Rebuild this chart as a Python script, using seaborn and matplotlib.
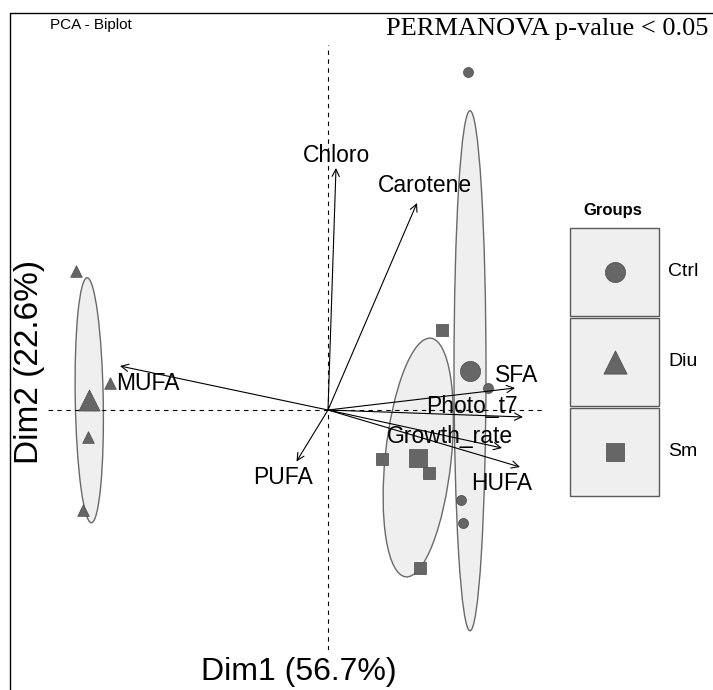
import numpy as np
import pandas as pd
import matplotlib
matplotlib.use("Agg")
import matplotlib.pyplot as plt
from matplotlib.patches import Ellipse, Rectangle
from matplotlib.lines import Line2D
import seaborn as sns

# individuals (PCA scores)
groups = ["Ctrl", "Ctrl", "Ctrl", "Ctrl",
          "Diu", "Diu", "Diu", "Diu",
          "Sm", "Sm", "Sm", "Sm"]
dim1 = [2.80, 3.20, 2.66, 2.70,
        -5.04, -4.36, -4.80, -4.90,
        2.28, 1.08, 2.02, 1.84]
dim2 = [6.76, 0.44, -1.80, -2.26,
        2.78, 0.54, -0.54, -2.00,
        1.60, -0.98, -1.26, -3.16]

group_names = ["Ctrl", "Diu", "Sm"]
group_markers = ["o", "^", "s"]
# concentration ellipses (full width / height in Dim units, angle in degrees)
ell_width = [0.64, 0.56, 1.32]
ell_height = [10.4, 4.9, 4.8]
ell_angle = [0, 1, -6]

# variables (loadings)
var_names = ["Chloro", "Carotene", "MUFA", "PUFA", "SFA", "Photo_t7", "Growth_rate", "HUFA"]
load_x = [0.16, 1.78, -4.16, -0.63, 3.74, 3.90, 3.48, 3.84]
load_y = [4.84, 4.14, 0.88, -1.03, 0.44, -0.14, -0.76, -1.14]
lab_x = [0.18, 1.94, -3.60, -0.90, 3.78, 2.88, 2.44, 3.48]
lab_y = [5.10, 4.48, 0.52, -1.34, 0.70, 0.08, -0.54, -1.46]

df = pd.DataFrame({"group": groups, "Dim1": dim1, "Dim2": dim2})
means = df.groupby("group")[["Dim1", "Dim2"]].mean()

sns.set_style("white")
plt.rcParams["font.family"] = ["Liberation Sans", "DejaVu Sans"]
plt.rcParams["text.color"] = "black"

W, H = 713, 690
fig = plt.figure(figsize=(W / 100, H / 100), dpi=100)
ax = fig.add_axes([48 / W, (H - 650) / H, 497 / W, 605 / H])
ax.set_xlim(-5.6, 4.34)
ax.set_ylim(-4.8, 7.3)
ax.axis("off")

pt_color = "#666666"
edge_color = "#4a4a4a"
small_s = {"o": 52, "^": 70, "s": 63}
big_s = {"o": 210, "^": 230, "s": 175}

for g, m, w, h, a in zip(group_names, group_markers, ell_width, ell_height, ell_angle):
    cx, cy = means.loc[g, "Dim1"], means.loc[g, "Dim2"]
    ax.add_patch(Ellipse((cx, cy), w, h, angle=a, facecolor="#efefef",
                         edgecolor="#6a6a6a", lw=1.0, zorder=1))

ax.axhline(0, color="black", ls=(0, (4, 4)), lw=0.8, zorder=2)
ax.axvline(0, color="black", ls=(0, (4, 4)), lw=0.8, zorder=2)

for g, m in zip(group_names, group_markers):
    sub = df[df["group"] == g]
    sns.scatterplot(data=sub, x="Dim1", y="Dim2", marker=m, s=small_s[m],
                    color=pt_color, edgecolor=edge_color, linewidth=0.5,
                    ax=ax, zorder=3, legend=False)
    sns.scatterplot(x=[means.loc[g, "Dim1"]], y=[means.loc[g, "Dim2"]], marker=m,
                    s=big_s[m], color=pt_color, edgecolor=edge_color, linewidth=0.5,
                    ax=ax, zorder=3, legend=False)

for name, x, y, tx, ty in zip(var_names, load_x, load_y, lab_x, lab_y):
    ax.annotate("", xy=(x, y), xytext=(0, 0),
                arrowprops=dict(arrowstyle="->", lw=0.8, color="black",
                                shrinkA=0, shrinkB=0, mutation_scale=13),
                zorder=4)
    ax.text(tx, ty, name, fontsize=16.5, color="black", ha="center", va="center", zorder=5)
ax.set_xlabel("")
ax.set_ylabel("")

# legend drawn as stacked key boxes
lax = fig.add_axes([570 / W, (H - 497) / H, 89 / W, 270 / H])
lax.set_xlim(0, 1)
lax.set_ylim(3, 0)
lax.axis("off")
gap = 0.022
leg_s = {"o": 210, "^": 280, "s": 170}
for i, (g, m) in enumerate(zip(group_names, group_markers)):
    lax.add_patch(Rectangle((0, i + gap / 2), 1, 1 - gap, facecolor="#efefef",
                            edgecolor="#5a5a5a", lw=1.0, clip_on=False))
    lax.scatter([0.5], [i + 0.5], marker=m, s=leg_s[m], color=pt_color,
                edgecolor=edge_color, linewidth=0.5, zorder=3, clip_on=False)
    lax.text(1.1, i + 0.5, g, fontsize=14, color="black", ha="left", va="center")
lax.text(0.48, -0.1, "Groups", fontsize=12, fontweight="bold", color="black",
         ha="center", va="bottom")

# texts
fig.text(50 / W, 1 - 25 / H, "PCA - Biplot", fontsize=11, color="black",
         ha="left", va="center")
fig.text(708 / W, 1 - 29 / H, "PERMANOVA p-value < 0.05", fontsize=19, color="black",
         family=["Liberation Serif", "DejaVu Serif"], ha="right", va="center")
fig.text(299 / W, 1 - 672 / H, "Dim1 (56.7%)", fontsize=23, color="black",
         ha="center", va="center")
fig.text(30 / W, 1 - 362 / H, "Dim2 (22.6%)", fontsize=24, color="black",
         ha="center", va="center", rotation=90)

# outer frame (top and left edges)
fig.add_artist(Line2D([10 / W, 10 / W], [0, 1 - 13 / H], color="black", lw=1.0))
fig.add_artist(Line2D([10 / W, 1], [1 - 13 / H, 1 - 13 / H], color="black", lw=1.0))

plt.savefig("out.png", dpi=100)
